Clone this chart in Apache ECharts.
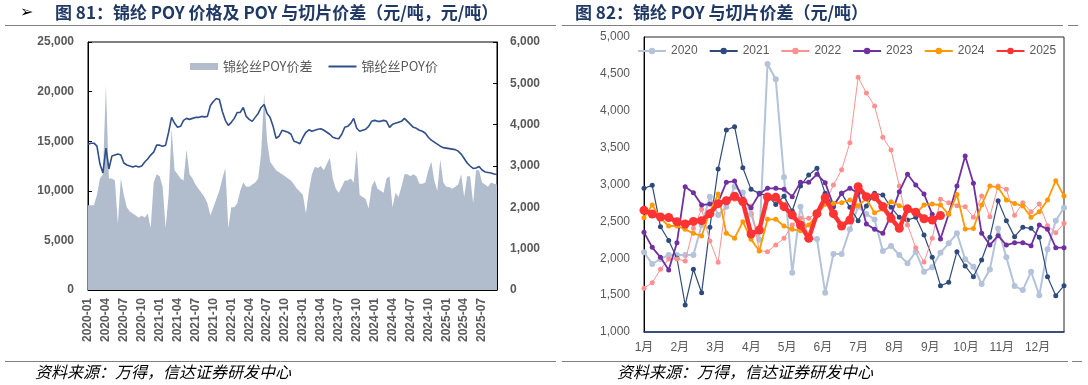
<!DOCTYPE html>
<html><head><meta charset="utf-8">
<script src="https://cdn.jsdelivr.net/npm/echarts@6/dist/echarts.min.js"></script>
<style>html,body{margin:0;padding:0;background:#fff}#c{width:1088px;height:385px}</style>
</head><body><div id="c"></div>
<script>
// ---------- Left chart (图81) : semi-monthly readings 2020-01 .. 2025-09 ----------
const leftStartYear = 2020, leftStartMonth = 1, leftMonthCount = 69;
const leftDates = [];
for (let k = 0; k < leftMonthCount; k++) {
  const y = leftStartYear + Math.floor((leftStartMonth - 1 + k) / 12);
  const m = (leftStartMonth - 1 + k) % 12 + 1;
  const mm = (m < 10 ? '0' : '') + m;
  leftDates.push(y + '-' + mm + '-01', y + '-' + mm + '-16');
}
const poyPriceName = '锦纶丝POY价';
const poySpreadName = '锦纶丝POY价差';
const poyPrice = [
  14700,14800, 14800,14500, 12700,11800, 14300,12200, 13500,13600, 13700,13600,
  12800,12600, 12500,12400, 12500,12400, 12500,12900, 13200,13600, 13900,14600,
  14600,14500, 14600,15900, 17400,16800, 16400,16500, 17100,17300, 17200,17300,
  17400,17400, 17500,17450, 17500,18600, 19000,19300, 19200,18000, 17100,16600,
  16900,17300, 17900,17900, 18400,17500, 17200,17000, 17400,17800, 18400,18700,
  17800,17400, 16500,15300, 15500,16100, 16000,15900, 15700,15000, 14900,14750,
  15400,15900, 16150,16000, 16100,16200, 16250,16100, 15900,15700, 15400,15300,
  15250,15700, 16400,16500, 16800,17300, 16300,16000, 16100,16200, 16500,17000,
  17100,17000, 17000,17100, 17000,16400, 16700,16800, 16900,17000, 17300,17000,
  16700,16400, 16300,16100, 16000,15800, 15400,15100, 14900,14700, 14500,14350,
  14300,14250, 14200,14150, 14000,13700, 13250,12800, 12500,12250, 12300,12450,
  12100,11900, 11850,11800, 11700,11650
];
const poySpread = [
  2050,2050, 2050,2300, 2700,2800, 4950,2700, 2700,2650, 1600,2700,
  2300,2000, 1900,1850, 1800,1750, 1800,1750, 1850,1500, 2600,2800,
  2750,2500, 1500,2300, 3900,2900, 2800,2700, 2650,3400, 2800,2700,
  2550,2450, 2350,2250, 2100,1800, 2000,2200, 2400,2700, 2950,1500,
  2000,2000, 2100,2400, 2600,2500, 2500,2550, 2600,2700, 3300,4750,
  3600,3100, 3000,2900, 2850,2800, 2750,2700, 2650,2550, 2450,2380,
  2300,1850, 2400,2800, 2980,2950, 3000,2900, 3050,3200, 2700,2450,
  2350,2500, 2650,2650, 2700,2600, 3400,2300, 2250,2200, 1970,2500,
  2650,2450, 2400,2350, 2700,2750, 2000,2350, 2250,2500, 2800,2800,
  2750,2800, 2750,2570, 2570,2600, 2900,3100, 2650,2400, 3150,2600,
  2500,2490, 2450,2500, 2550,2800, 2250,2750, 2750,2100, 2900,2900,
  2600,2550, 2500,2600, 2570,2550
];

// ---------- Right chart (图82) : weekly spread by year ----------
const yearNames = ['2020','2021','2022','2023','2024','2025'];
const weeksPerMonth = 4.345;
const monthLabels = ['1月','2月','3月','4月','5月','6月','7月','8月','9月','10月','11月','12月'];
const s2020 = [2080,1922,1990,2044,2044,2044,2044,2450,2835,2586,2700,2970,2890,2600,2250,4634,4426,3100,1804,2700,2261,2261,1533,2057,2057,2392,2699,2600,2527,2098,2166,2044,1931,2089,1818,1877,2075,2202,2338,1985,1886,1651,1849,2405,2012,1623,1569,1818,1497,2121,2509,2686];
const s2021 = [2948,2989,2428,2240,2000,1366,1850,1533,2419,3210,3739,3784,3228,2934,2880,2850,2730,2840,2640,2980,3130,3220,2880,2700,2880,2690,2510,2708,2880,2858,2690,2555,2519,2555,2315,2012,1628,1673,2089,1895,1750,1976,2284,2781,2510,2293,2419,2406,2284,1750,1493,1628];
const s2022 = [1592,1669,1850,1990,1990,1963,2406,2663,2234,1945,2799,2799,2750,2708,2103,2089,2180,2270,2451,2541,2541,2620,2750,2993,3200,3567,4453,4240,4064,3640,3468,2980,2451,2143,1949,2270,2799,2753,2713,2699,2555,2844,2564,2979,2934,2582,2753,2631,2735,2442,2347,2473];
const s2023 = [2351,2148,2012,1840,2211,2970,2889,2722,2735,2760,3029,3047,2799,2686,2871,2948,2948,2934,2835,3029,3029,3138,3025,2713,2880,2948,2880,2464,2392,2338,2586,2903,3138,2993,2871,2595,2261,2600,2979,3386,3016,2338,2179,2306,2179,2211,2211,2170,2451,2392,2143,2143];
const s2024 = [2550,2722,2541,2437,2437,2392,2338,2302,2632,2871,2338,2270,2496,2256,2098,2528,2528,2437,2392,2374,2450,2586,2731,2744,2753,2790,2713,2803,2618,2663,2767,2713,2677,2609,2722,2735,2722,2595,2866,2396,2405,2722,2979,2961,2790,2744,2708,2555,2631,2790,3052,2844];
const s2025 = [2650,2600,2560,2553,2496,2464,2500,2510,2605,2740,2780,2840,2767,2329,2383,2830,2826,2700,2586,2451,2270,2605,2820,2605,2437,2519,2970,2835,2835,2703,2541,2406,2670,2625,2535,2519,2580];
const yearSeries = [s2020, s2021, s2022, s2023, s2024, s2025];
const yearStyles = [
  {color:'#b4c3d9', width:2,   size:6},
  {color:'#2e4b7d', width:1.2, size:5},
  {color:'#ff9090', width:1,   size:5},
  {color:'#7030a0', width:1.8, size:5},
  {color:'#ff9900', width:1.8, size:5},
  {color:'#ff3333', width:4.5, size:9}
];

const FONT = "'Liberation Sans', 'Noto Sans CJK SC', sans-serif";
const CJK = "'Noto Sans CJK SC', sans-serif";
const thousands = v => String(v).replace(/\B(?=(\d{3})+(?!\d))/g, ',');
const isQuarter = (idx, val) => {
  const parts = String(val).split('-');
  return parts[2] === '01' && ['01','04','07','10'].indexOf(parts[1]) >= 0;
};

const chart = echarts.init(document.getElementById('c'));
const rightSeries = yearNames.map((name, k) => ({
  name: name, type: 'line', xAxisIndex: 1, yAxisIndex: 2,
  data: yearSeries[k].map((v, i) => [i, v]),
  symbol: 'circle', symbolSize: yearStyles[k].size, showSymbol: true,
  lineStyle: {color: yearStyles[k].color, width: yearStyles[k].width},
  itemStyle: {color: yearStyles[k].color},
  z: 2 + k
}));

const leftLabel = {fontSize: 12, color: '#595959', fontWeight: 'bold'};

chart.setOption({
  animation: false,
  textStyle: {fontFamily: FONT},
  grid: [
    {left: 88, top: 42, width: 409, height: 248, show: true, borderColor: '#000', borderWidth: 1},
    {left: 644, top: 37, width: 420, height: 295, show: true, borderColor: '#262626', borderWidth: 1}
  ],
  legend: [
    {left: 185, top: 55, itemWidth: 28, itemHeight: 7, itemGap: 15,
     data: [{name: poySpreadName, icon: 'rect'}, {name: poyPriceName, itemStyle: {opacity: 0}}],
     textStyle: {fontSize: 13, color: '#595959', fontFamily: CJK}},
    {left: 632, top: 40, itemWidth: 28, itemHeight: 8, itemGap: 11,
     data: yearNames, textStyle: {fontSize: 12, color: '#595959', fontFamily: FONT}}
  ],
  xAxis: [
    {gridIndex: 0, type: 'category', data: leftDates, boundaryGap: false,
     axisLine: {lineStyle: {color: '#000', width: 1}},
     axisTick: {inside: true, length: 4, interval: isQuarter, lineStyle: {color: '#000'}},
     axisLabel: Object.assign({interval: isQuarter, rotate: 90, formatter: v => v.slice(0, 7), margin: 8}, leftLabel),
     splitLine: {show: false}},
    {gridIndex: 1, type: 'value', min: 0, max: yearSeries[0].length - 1, interval: weeksPerMonth,
     axisLine: {lineStyle: {color: '#1f3b70', width: 1.5}},
     axisTick: {show: false}, splitLine: {show: false},
     axisLabel: {fontSize: 12, color: '#595959', margin: 10, showMaxLabel: false,
       formatter: v => {
         const k = Math.round(v / weeksPerMonth);
         if (Math.abs(v - k * weeksPerMonth) > 0.05 || k > 11) return '';
         return monthLabels[k];
       }}}
  ],
  yAxis: [
    {gridIndex: 0, type: 'value', min: 0, max: 25000, interval: 5000, position: 'left',
     axisLine: {show: true, lineStyle: {color: '#000'}},
     axisTick: {show: true, inside: true, length: 4, lineStyle: {color: '#000'}},
     splitLine: {show: false},
     axisLabel: Object.assign({formatter: thousands, margin: 14}, leftLabel)},
    {gridIndex: 0, type: 'value', min: 0, max: 6000, interval: 1000, position: 'right',
     axisLine: {show: true, lineStyle: {color: '#000'}},
     axisTick: {show: true, inside: true, length: 4, lineStyle: {color: '#000'}},
     splitLine: {show: false},
     axisLabel: Object.assign({margin: 13}, leftLabel)},
    {gridIndex: 1, type: 'value', min: 1000, max: 5000, interval: 500,
     axisLine: {show: true, lineStyle: {color: '#000'}},
     axisTick: {show: false}, splitLine: {show: false},
     axisLabel: {formatter: thousands, fontSize: 12, color: '#595959', margin: 14}}
  ],
  series: [
    {name: poySpreadName, type: 'line', xAxisIndex: 0, yAxisIndex: 1, data: poySpread,
     symbol: 'none', lineStyle: {width: 0}, itemStyle: {color: '#b1bccd'},
     areaStyle: {color: '#b1bccd', opacity: 1}, z: 1},
    {name: poyPriceName, type: 'line', xAxisIndex: 0, yAxisIndex: 0, data: poyPrice,
     symbol: 'none', lineStyle: {color: '#2f4e8a', width: 1.6}, itemStyle: {color: '#2f4e8a'}, z: 3}
  ].concat(rightSeries),
  graphic: [
    {type: 'text', x: 20, y: 13, style: {text: '➢', font: '16px "DejaVu Sans"', fill: '#000', verticalAlign: 'middle'}},
    {type: 'text', x: 55, y: 13, style: {text: '图 81：锦纶 POY 价格及 POY 与切片价差（元/吨，元/吨）',
      font: 'bold 17px "Noto Sans CJK SC"', fill: '#1f3864', verticalAlign: 'middle'}},
    {type: 'text', x: 575, y: 13, style: {text: '图 82：锦纶 POY 与切片价差（元/吨）',
      font: 'bold 17px "Noto Sans CJK SC"', fill: '#1f3864', verticalAlign: 'middle'}},
    {type: 'line', shape: {x1: 5, y1: 25.5, x2: 556, y2: 25.5}, style: {stroke: '#7f7f7f', lineWidth: 1}},
    {type: 'line', shape: {x1: 562, y1: 25.5, x2: 1063, y2: 25.5}, style: {stroke: '#7f7f7f', lineWidth: 1}},
    {type: 'line', shape: {x1: 1068, y1: 25.5, x2: 1078, y2: 25.5}, style: {stroke: '#7f7f7f', lineWidth: 1}},
    {type: 'line', shape: {x1: 5, y1: 361.5, x2: 556, y2: 361.5}, style: {stroke: '#7f7f7f', lineWidth: 1}},
    {type: 'line', shape: {x1: 562, y1: 361.5, x2: 1068, y2: 361.5}, style: {stroke: '#7f7f7f', lineWidth: 1}},
    {type: 'line', shape: {x1: 1072, y1: 361.5, x2: 1082, y2: 361.5}, style: {stroke: '#7f7f7f', lineWidth: 1}},
    {type: 'text', x: 35, y: 372, style: {text: '资料来源：万得，信达证券研发中心',
      font: 'italic 16px "Noto Sans CJK SC"', fill: '#000', verticalAlign: 'middle'}},
    {type: 'text', x: 617, y: 372, style: {text: '资料来源：万得，信达证券研发中心',
      font: 'italic 16px "Noto Sans CJK SC"', fill: '#000', verticalAlign: 'middle'}}
  ]
});
</script>
</body></html>
